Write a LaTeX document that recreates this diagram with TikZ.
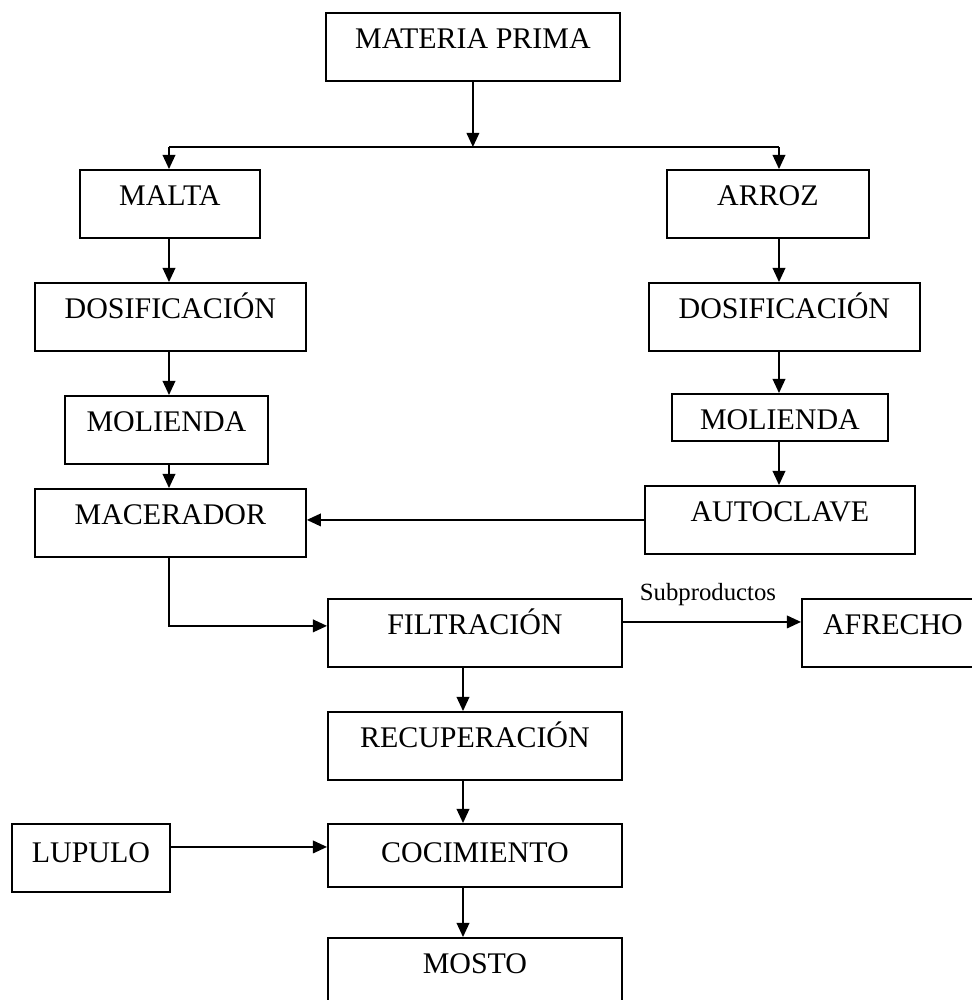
\documentclass[tikz,border=0pt]{standalone}
\usepackage{fontspec}
\setmainfont{Liberation Serif}
\usetikzlibrary{arrows.meta}
\newlength\pxu
\setlength\pxu{0.025cm}

\begin{document}
\begin{tikzpicture}[x=0.025cm,y=-0.025cm,
caja/.style={draw,line width=1.3pt,anchor=north west,inner ysep=0pt,
  text height=36\pxu,text depth=32\pxu,font=\fontsize{21.3}{25}\selectfont},
flujo/.style={line width=1.1pt,-{Triangle[length=10pt,width=9pt]}}]

\useasboundingbox (0,0) rectangle (972,1000);
\clip (0,0) rectangle (972,1000);

% columnas de las flechas
\coordinate (colL) at (169,0);
\coordinate (colC) at (463,0);
\coordinate (colR) at (779,0);
\coordinate (rama) at (472,147);

\node[caja,minimum width=294\pxu] (mp) at (325,12) {MATERIA PRIMA};
\node[caja,minimum width=180\pxu] (malta) at (79,169) {MALTA};
\node[caja,minimum width=202\pxu] (arroz) at (666,169) {ARROZ};
\node[caja,minimum width=271\pxu] (dosL) at (34,282) {DOSIFICACIÓN};
\node[caja,minimum width=271\pxu] (dosR) at (648,282) {DOSIFICACIÓN};
\node[caja,minimum width=203\pxu] (molL) at (64,395) {MOLIENDA};
\node[caja,minimum width=216\pxu,text depth=11\pxu] (molR) at (671,393) {MOLIENDA};
\node[caja,minimum width=271\pxu] (mac) at (34,488) {MACERADOR};
\node[caja,minimum width=270\pxu] (auto) at (644,485) {AUTOCLAVE};
\node[caja,minimum width=294\pxu] (filt) at (327,598) {FILTRACIÓN};
\node[caja,minimum width=182\pxu] (afr) at (801,598) {AFRECHO};
\node[caja,minimum width=294\pxu] (recu) at (327,711) {RECUPERACIÓN};
\node[caja,minimum width=158\pxu,text height=39\pxu,text depth=29\pxu] (lup) at (11,823) {LUPULO};
\node[caja,minimum width=294\pxu,text height=39\pxu,text depth=24\pxu] (coc) at (327,823) {COCIMIENTO};
\node[caja,minimum width=294\pxu] (mosto) at (327,937) {MOSTO};

% reparto de la materia prima
\draw[flujo] (mp.south) -- (mp.south |- rama);
\draw[line width=1.1pt] (colL |- rama) -- (colR |- rama);
\draw[flujo] (colL |- rama) -- (colL |- malta.north);
\draw[flujo] (colR |- rama) -- (colR |- arroz.north);

\foreach \a/\b in {malta/dosL,dosL/molL,molL/mac}
{
\draw[flujo] (colL |- \a.south) -- (colL |- \b.north);
}
\foreach \a/\b in {arroz/dosR,dosR/molR,molR/auto}
{
\draw[flujo] (colR |- \a.south) -- (colR |- \b.north);
}
\foreach \a/\b in {filt/recu,recu/coc,coc/mosto}
{
\draw[flujo] (colC |- \a.south) -- (colC |- \b.north);
}

\draw[flujo] (auto.west) -- (auto.west -| mac.east);
\draw[flujo] (colL |- mac.south) |- ([yshift=5pt]filt.west);
\draw[flujo] ([yshift=7.8pt]filt.east) -- ([yshift=7.8pt]filt.east -| afr.west)
  node[midway,anchor=base,yshift=15.6pt,xshift=-2.8pt,font=\fontsize{17.6}{20}\selectfont] (sub) {Subproductos};
\draw[flujo] ([yshift=7.8pt]lup.east) -- ([yshift=7.8pt]lup.east -| coc.west);
\end{tikzpicture}
\end{document}
